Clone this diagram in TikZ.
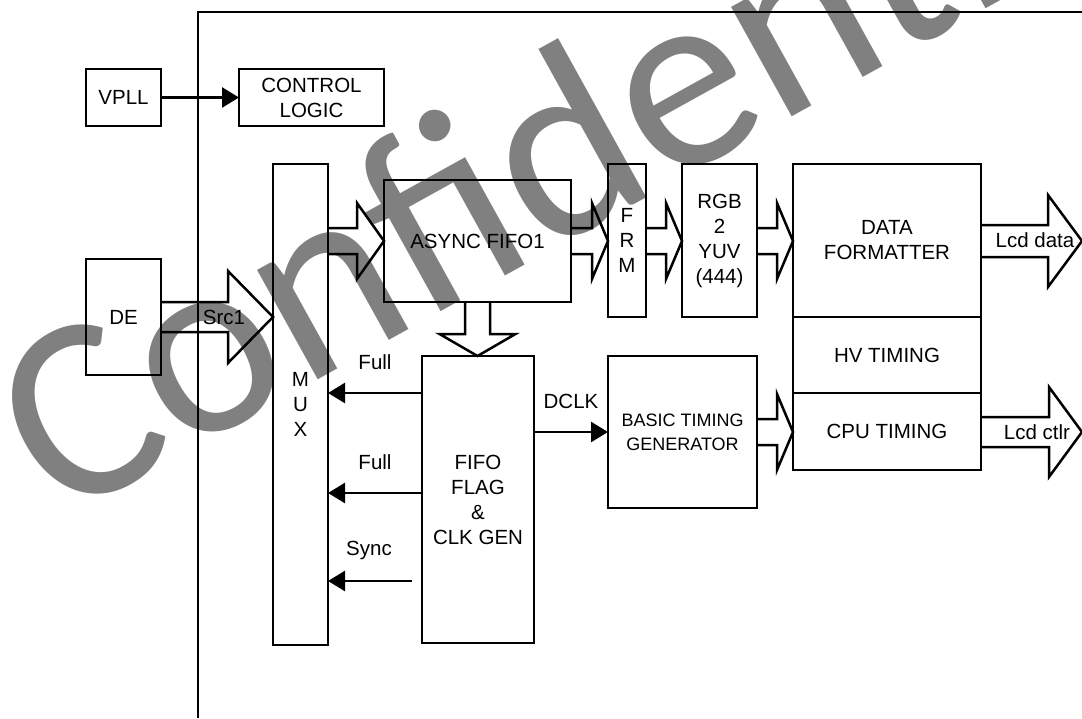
\documentclass[tikz,border=0pt]{standalone}
\usepackage{fontspec}
\setmainfont{Liberation Sans}
\newfontfamily\wmfont{Carlito}
\usetikzlibrary{arrows.meta,calc}
\definecolor{wmgray}{HTML}{808080}
\newcommand{\mainsz}{\fontsize{20.5}{25}\selectfont}
\newcommand{\smallsz}{\fontsize{18}{24}\selectfont}
% hollow arrow to the right: #1 start point, #2 apex, #3 shaft half width, #4 head half width, #5 head length
\newcommand{\hArrowR}[5]{\draw[hollow] ($(#1)+(0,-#3)$) -- ($(#2)+(-#5,-#3)$) -- ($(#2)+(-#5,-#4)$) -- (#2) -- ($(#2)+(-#5,#4)$) -- ($(#2)+(-#5,#3)$) -- ($(#1)+(0,#3)$);}
% hollow arrow downwards
\newcommand{\hArrowD}[5]{\draw[hollow] ($(#1)+(-#3,0)$) -- ($(#2)+(-#3,-#5)$) -- ($(#2)+(-#4,-#5)$) -- (#2) -- ($(#2)+(#4,-#5)$) -- ($(#2)+(#3,-#5)$) -- ($(#1)+(#3,0)$);}
\begin{document}
\begin{tikzpicture}[x=1pt,y=-1pt,
  box/.style={draw, line width=2.5pt, inner sep=0pt, outer sep=0pt, align=center, font=\mainsz},
  frame/.style={line width=2pt},
  sig/.style={line width=2.5pt, -{Triangle[length=17pt,width=20pt]}},
  hollow/.style={line width=2.5pt, line join=miter},
  lbl/.style={font=\mainsz, inner sep=0pt},
  wm/.style={rotate=29, anchor=base west, inner sep=0pt, text=wmgray, font=\wmfont\fontsize{262}{262}\selectfont}]
\useasboundingbox (0,0) rectangle (1082,718);
\fill[white] (0,0) rectangle (1082,718);
% watermark
\node[wm] (wm) at (59,523) {Confidential};
% frame
\draw[frame] (198,718) -- (198,12) -- (1082,12);
% boxes
\node[box, minimum width=75pt, minimum height=57pt] (vpll) at (123.5,97.5) {VPLL};
\node[box, minimum width=145pt, minimum height=57pt] (ctrl) at (311.5,97.5) {CONTROL\\LOGIC};
\node[box, minimum width=75pt, minimum height=116pt] (de) at (123.5,317) {DE};
\node[box, minimum width=55pt, minimum height=481pt] (mux) at (300.5,404.5) {M\\U\\X};
\node[box, minimum width=187pt, minimum height=122pt] (async) at (477.5,241) {ASYNC FIFO1};
\node[box, minimum width=38pt, minimum height=153pt] (frm) at (627,240.5) {F\\R\\M};
\node[box, minimum width=75pt, minimum height=153pt] (rgb) at (719.5,240.5) {RGB\\2\\YUV\\(444)};
\node[box, minimum width=188pt, minimum height=153pt] (df) at (887,240.5) {DATA\\FORMATTER};
\node[box, minimum width=188pt, minimum height=76pt] (hv) at (887,355) {HV TIMING};
\node[box, minimum width=188pt, minimum height=77pt] (cpu) at (887,431.5) {CPU TIMING};
\node[box, minimum width=149pt, minimum height=152pt, font=\smallsz] (basic) at (682.5,432) {BASIC TIMING\\GENERATOR};
\node[box, minimum width=112pt, minimum height=287pt] (flag) at (478,499.5) {FIFO\\FLAG\\\&\\CLK GEN};
% free ends
\coordinate (outdata) at (1082,241);
\coordinate (outctl) at (1082,432);
\coordinate (syncs) at (412,581);
% hollow arrows
\hArrowR{de.east}{mux.west |- de.east}{15}{46}{45}
\hArrowR{mux.east |- async.west}{async.west}{13}{38}{27}
\hArrowR{async.east}{frm.west |- async.east}{13}{38}{16}
\hArrowR{frm.east |- async.east}{rgb.west |- async.east}{13}{38}{16}
\hArrowR{rgb.east |- async.east}{df.west |- async.east}{13}{38}{16}
\hArrowR{basic.east}{cpu.west |- basic.east}{13}{38}{16}
\hArrowR{df.east |- outdata}{outdata}{16}{46}{34}
\hArrowR{cpu.east |- outctl}{outctl}{15}{45}{33}
\hArrowD{async.south}{async.south |- flag.north}{12.5}{38}{22}
% signal arrows
\draw[sig] (vpll.east) -- (ctrl.west);
\coordinate (full1s) at ([yshift=106.5pt]flag.west);
\coordinate (full2s) at ([yshift=6.5pt]flag.west);
\coordinate (dclks) at ([yshift=67.5pt]flag.east);
\draw[sig] (full1s) -- (mux.east |- full1s);
\draw[sig] (full2s) -- (mux.east |- full2s);
\draw[sig] (syncs) -- (mux.east |- syncs);
\draw[sig] (dclks) -- (basic.west |- dclks);
% labels
\node[lbl] (lsrc) at (224,317) {Src1};
\node[lbl] (lfull1) at (375,362) {Full};
\node[lbl] (lfull2) at (375,462) {Full};
\node[lbl] (lsync) at (369,550) {Sync};
\node[lbl] (ldclk) at (571,401) {DCLK};
\node[lbl] (llcdd) at (1035,240) {Lcd data};
\node[lbl] (llcdc) at (1037,432) {Lcd ctlr};
\end{tikzpicture}
\end{document}
